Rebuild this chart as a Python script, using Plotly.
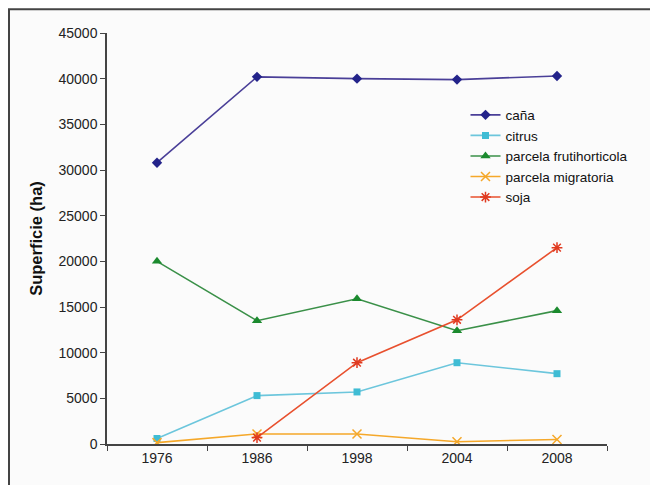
import plotly.graph_objects as go

years = ["1976", "1986", "1998", "2004", "2008"]
cana = [30800, 40200, 40000, 39900, 40300]
citrus = [600, 5300, 5700, 8900, 7700]
frutihorticola = [20000, 13500, 15900, 12400, 14600]
migratoria = [150, 1100, 1100, 250, 500]
soja = [None, 700, 8900, 13600, 21500]

series = [
    ("caña", cana, "#4a3f98", "#23238a", "diamond", 8, 0),
    ("citrus", citrus, "#6cc6dc", "#3fbcd4", "square", 7, 0),
    ("parcela frutihorticola", frutihorticola, "#3a9048", "#1b8a2e", "triangle-up", 9, 0),
    ("parcela migratoria", migratoria, "#f5a82a", "#f5a82a", "x-thin-open", 9, 1.5),
    ("soja", soja, "#e8502e", "#e03a20", "asterisk-open", 9, 1.5),
]

fig = go.Figure()
for name, vals, lc, mc, sym, sz, lw in series:
    marker = dict(symbol=sym, size=sz, color=mc)
    if lw:
        marker["line"] = dict(color=mc, width=lw)
    fig.add_trace(go.Scatter(
        x=years, y=vals, name=name, mode="lines+markers",
        line=dict(color=lc, width=1.6), marker=marker,
    ))

fig.update_layout(
    width=650, height=477,
    margin=dict(l=99, r=51, t=25, b=41),
    paper_bgcolor="#fbfbfb", plot_bgcolor="#fbfbfb",
    font=dict(family="Liberation Sans, Arial", size=13, color="#222"),
    showlegend=True,
    legend=dict(x=0.717, y=0.838, xanchor="left", yanchor="top",
                bgcolor="rgba(0,0,0,0)", font=dict(size=13.5, color="#111"),
                tracegroupgap=0, itemwidth=30),
    xaxis=dict(type="category", range=[-0.5, 4.5], showgrid=False,
               showline=True, linecolor="#444", linewidth=1.5,
               ticks="outside", tickson="boundaries", ticklen=5, tickcolor="#444",
               tickfont=dict(size=14, color="#222"), zeroline=False),
    yaxis=dict(range=[0, 45000], dtick=5000, showgrid=False,
               showline=True, linecolor="#444", linewidth=1.5,
               ticks="outside", ticklen=5, tickcolor="#444", tickformat="d",
               tickfont=dict(size=14, color="#222"), zeroline=False,
               title=dict(text="<b>Superficie (ha)</b>", font=dict(size=16.5, color="#111"),
                          standoff=12)),
    shapes=[
        dict(type="line", xref="paper", yref="paper", x0=-0.2, x1=1.2, y0=1.058, y1=1.058,
             line=dict(color="#444", width=2)),
        dict(type="line", xref="paper", yref="paper", x0=-0.196, x1=-0.196, y0=-0.2, y1=1.058,
             line=dict(color="#444", width=2)),
    ],
)

fig.write_html("out.html")
